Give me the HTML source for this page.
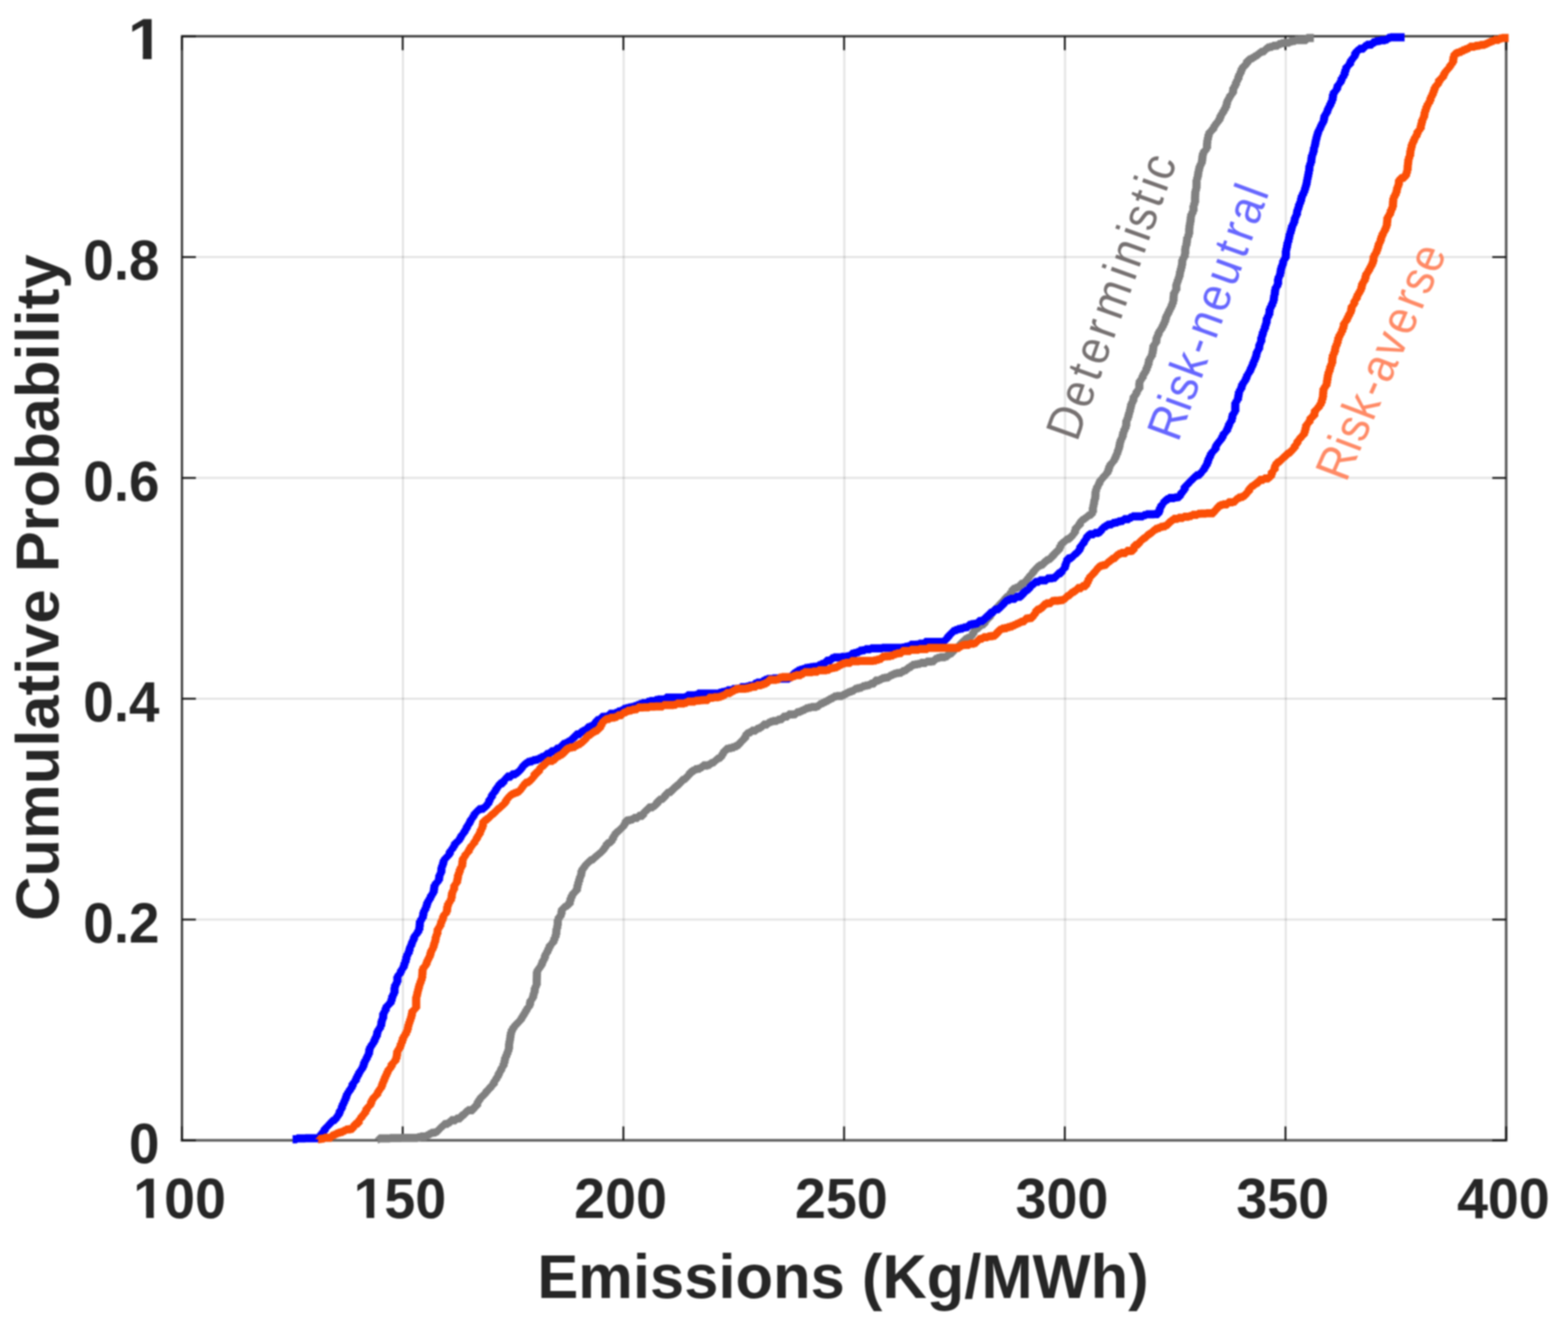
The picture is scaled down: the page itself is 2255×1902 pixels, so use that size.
<!DOCTYPE html>
<html lang="en"><head><meta charset="utf-8"><title>Cumulative Probability vs Emissions</title>
<style>
html,body{margin:0;padding:0;background:#fff}
body{width:2255px;height:1902px;overflow:hidden}
svg{display:block;filter:blur(1px)}
text{font-family:"Liberation Sans",sans-serif}
.tk{font-weight:bold;font-size:80px;fill:#262626}
.al{font-weight:bold;font-size:88px;fill:#262626}
.cl{font-size:71px}
</style></head><body>
<svg width="2255" height="1902" viewBox="0 0 2255 1902">
<rect width="2255" height="1902" fill="#fff"/>
<g stroke="#000" stroke-opacity="0.105" stroke-width="3" fill="none">
<line x1="579.5" y1="52.2" x2="579.5" y2="1639.4"/>
<line x1="896.9" y1="52.2" x2="896.9" y2="1639.4"/>
<line x1="1214.3" y1="52.2" x2="1214.3" y2="1639.4"/>
<line x1="1531.7" y1="52.2" x2="1531.7" y2="1639.4"/>
<line x1="1849.1" y1="52.2" x2="1849.1" y2="1639.4"/>
<line x1="261.7" y1="1322.0" x2="2166.1" y2="1322.0"/>
<line x1="261.7" y1="1004.5" x2="2166.1" y2="1004.5"/>
<line x1="261.7" y1="687.1" x2="2166.1" y2="687.1"/>
<line x1="261.7" y1="369.6" x2="2166.1" y2="369.6"/>
</g>
<g fill="none" stroke-width="3.4" stroke-linecap="square"><path stroke="#5c5c5c" stroke-width="3.8" d="M261.7,1639.4H2166.1M2166.1,52.2V1639.4"/><path stroke="#383838" stroke-width="3.2" d="M261.7,52.2H2166.1M261.7,52.2V1639.4"/></g>
<g stroke="#141414" stroke-width="2.6">
<line x1="261.7" y1="1639.4" x2="261.7" y2="1619.4"/><line x1="261.7" y1="52.2" x2="261.7" y2="72.2"/>
<line x1="579.1" y1="1639.4" x2="579.1" y2="1619.4"/><line x1="579.1" y1="52.2" x2="579.1" y2="72.2"/>
<line x1="896.5" y1="1639.4" x2="896.5" y2="1619.4"/><line x1="896.5" y1="52.2" x2="896.5" y2="72.2"/>
<line x1="1213.9" y1="1639.4" x2="1213.9" y2="1619.4"/><line x1="1213.9" y1="52.2" x2="1213.9" y2="72.2"/>
<line x1="1531.3" y1="1639.4" x2="1531.3" y2="1619.4"/><line x1="1531.3" y1="52.2" x2="1531.3" y2="72.2"/>
<line x1="1848.7" y1="1639.4" x2="1848.7" y2="1619.4"/><line x1="1848.7" y1="52.2" x2="1848.7" y2="72.2"/>
<line x1="2166.1" y1="1639.4" x2="2166.1" y2="1619.4"/><line x1="2166.1" y1="52.2" x2="2166.1" y2="72.2"/>
<line x1="261.7" y1="1639.4" x2="281.7" y2="1639.4"/><line x1="2166.1" y1="1639.4" x2="2146.1" y2="1639.4"/>
<line x1="261.7" y1="1322.0" x2="281.7" y2="1322.0"/><line x1="2166.1" y1="1322.0" x2="2146.1" y2="1322.0"/>
<line x1="261.7" y1="1004.5" x2="281.7" y2="1004.5"/><line x1="2166.1" y1="1004.5" x2="2146.1" y2="1004.5"/>
<line x1="261.7" y1="687.1" x2="281.7" y2="687.1"/><line x1="2166.1" y1="687.1" x2="2146.1" y2="687.1"/>
<line x1="261.7" y1="369.6" x2="281.7" y2="369.6"/><line x1="2166.1" y1="369.6" x2="2146.1" y2="369.6"/>
<line x1="261.7" y1="52.2" x2="281.7" y2="52.2"/><line x1="2166.1" y1="52.2" x2="2146.1" y2="52.2"/>
</g>
<g fill="none" stroke-width="11.8" stroke-linejoin="bevel" stroke-linecap="butt">
<polyline stroke="#808080" points="543.3,1637.8 545.2,1637.8 545.2,1636.6 549.2,1636.6 549.2,1636.6 553.1,1636.6 553.1,1636.6 557.0,1636.6 557.0,1636.6 560.9,1636.6 560.9,1636.2 564.9,1636.2 564.9,1636.2 568.8,1636.2 568.8,1636.2 572.7,1636.2 572.7,1636.2 576.6,1636.2 576.6,1635.9 580.5,1635.9 580.5,1635.8 584.5,1635.8 584.5,1635.8 588.4,1635.8 588.4,1635.8 592.4,1635.8 592.4,1635.8 596.4,1635.8 596.4,1635.8 600.5,1635.8 600.5,1635.0 604.5,1635.0 604.5,1634.0 608.8,1634.0 608.8,1634.0 612.9,1634.0 612.9,1632.5 616.3,1632.5 616.3,1630.4 619.7,1630.4 619.7,1628.6 623.5,1628.6 623.5,1628.1 627.2,1628.1 627.2,1626.6 630.2,1626.6 630.2,1623.7 632.6,1623.7 632.6,1621.2 635.3,1621.2 635.3,1618.8 638.0,1618.8 638.0,1616.2 641.2,1616.2 641.2,1615.6 644.8,1615.6 644.8,1613.5 648.2,1613.5 648.2,1610.5 652.0,1610.5 652.0,1610.5 655.8,1610.5 655.8,1608.1 659.5,1608.1 659.5,1607.9 662.7,1607.9 662.7,1604.0 665.8,1604.0 665.8,1602.0 669.1,1602.0 669.1,1598.5 672.2,1598.5 672.2,1596.1 676.7,1596.1 676.7,1596.1 680.7,1596.1 680.7,1591.8 684.1,1591.8 684.1,1590.1 686.2,1590.1 686.2,1586.0 687.3,1586.0 687.3,1582.9 689.4,1582.9 689.4,1579.7 691.6,1579.7 691.6,1576.6 694.4,1576.6 694.4,1574.0 697.4,1574.0 697.4,1570.9 699.9,1570.9 699.9,1567.3 702.8,1567.3 702.8,1565.2 705.3,1565.2 705.3,1561.4 708.0,1561.4 708.0,1559.5 710.1,1559.5 710.1,1555.2 711.7,1555.2 711.7,1552.5 713.9,1552.5 713.9,1549.0 715.9,1549.0 715.9,1546.1 717.3,1546.1 717.3,1542.2 719.0,1542.2 719.0,1539.6 720.8,1539.6 720.8,1535.8 722.3,1535.8 722.3,1532.9 724.2,1532.9 724.2,1528.6 725.5,1528.6 725.5,1524.3 726.4,1524.3 726.4,1519.9 728.1,1519.9 728.1,1516.1 729.7,1516.1 729.7,1512.1 731.1,1512.1 731.1,1508.3 732.0,1508.3 732.0,1503.9 732.1,1503.9 732.1,1500.0 732.7,1500.0 732.7,1496.0 733.5,1496.0 733.5,1491.9 734.1,1491.9 734.1,1487.8 734.8,1487.8 734.8,1483.7 736.1,1483.7 736.1,1479.8 738.3,1479.8 738.3,1476.0 740.9,1476.0 740.9,1472.8 744.0,1472.8 744.0,1469.6 747.0,1469.6 747.0,1467.1 749.3,1467.1 749.3,1463.8 751.1,1463.8 751.1,1460.7 753.1,1460.7 753.1,1457.5 755.0,1457.5 755.0,1454.4 756.8,1454.4 756.8,1451.0 758.7,1451.0 758.7,1448.1 761.0,1448.1 761.0,1445.2 762.2,1445.2 762.2,1441.1 762.9,1441.1 762.9,1437.7 765.0,1437.7 765.0,1435.1 766.6,1435.1 766.6,1431.1 767.5,1431.1 767.5,1427.6 768.7,1427.6 768.7,1423.9 769.1,1423.9 769.1,1419.9 770.5,1419.9 770.5,1416.5 771.9,1416.5 771.9,1412.5 771.9,1412.5 771.9,1408.5 772.0,1408.5 772.0,1404.7 772.1,1404.7 772.1,1400.8 772.2,1400.8 772.2,1396.8 773.2,1396.8 773.2,1393.7 775.3,1393.7 775.3,1390.8 777.4,1390.8 777.4,1388.0 779.1,1388.0 779.1,1384.6 780.4,1384.6 780.4,1380.8 782.4,1380.8 782.4,1377.6 783.7,1377.6 783.7,1373.3 785.0,1373.3 785.0,1370.2 787.1,1370.2 787.1,1366.5 788.8,1366.5 788.8,1362.7 790.6,1362.7 790.6,1358.5 793.2,1358.5 793.2,1355.8 795.8,1355.8 795.8,1351.9 797.3,1351.9 797.3,1347.7 799.0,1347.7 799.0,1343.7 800.0,1343.7 800.0,1339.0 800.3,1339.0 800.3,1334.9 801.4,1334.9 801.4,1330.7 802.1,1330.7 802.1,1326.3 802.2,1326.3 802.2,1321.9 803.6,1321.9 803.6,1318.1 806.3,1318.1 806.3,1314.3 807.5,1314.3 807.5,1309.7 808.2,1309.7 808.2,1306.4 810.4,1306.4 810.4,1304.2 813.6,1304.2 813.6,1302.1 816.9,1302.1 816.9,1300.2 819.3,1300.2 819.3,1295.4 820.5,1295.4 820.5,1291.1 822.1,1291.1 822.1,1287.1 824.1,1287.1 824.1,1283.5 827.1,1283.5 827.1,1281.1 829.6,1281.1 829.6,1276.5 830.5,1276.5 830.5,1272.1 831.7,1272.1 831.7,1267.7 833.0,1267.7 833.0,1263.2 834.1,1263.2 834.1,1259.7 835.6,1259.7 835.6,1255.9 836.3,1255.9 836.3,1251.4 837.8,1251.4 837.8,1248.3 840.3,1248.3 840.3,1245.0 842.5,1245.0 842.5,1242.0 845.1,1242.0 845.1,1239.5 847.9,1239.5 847.9,1236.8 851.1,1236.8 851.1,1235.3 854.3,1235.3 854.3,1232.5 857.2,1232.5 857.2,1230.1 860.1,1230.1 860.1,1227.7 862.8,1227.7 862.8,1225.4 865.6,1225.4 865.6,1223.1 867.9,1223.1 867.9,1219.8 870.2,1219.8 870.2,1216.5 872.5,1216.5 872.5,1212.4 875.8,1212.4 875.8,1210.7 879.5,1210.7 879.5,1207.2 881.5,1207.2 881.5,1203.0 883.4,1203.0 883.4,1199.9 885.5,1199.9 885.5,1196.6 888.2,1196.6 888.2,1194.6 891.1,1194.6 891.1,1191.8 893.9,1191.8 893.9,1189.4 896.4,1189.4 896.4,1186.4 898.4,1186.4 898.4,1183.2 900.1,1183.2 900.1,1179.6 903.2,1179.6 903.2,1179.1 907.2,1179.1 907.2,1178.1 910.9,1178.1 910.9,1175.8 914.9,1175.8 914.9,1175.8 917.8,1175.8 917.8,1172.9 921.5,1172.9 921.5,1172.9 924.9,1172.9 924.9,1169.6 926.5,1169.6 926.5,1166.5 929.1,1166.5 929.1,1164.3 932.2,1164.3 932.2,1160.9 935.8,1160.9 935.8,1160.7 939.6,1160.7 939.6,1158.4 943.0,1158.4 943.0,1156.4 945.2,1156.4 945.2,1151.7 947.6,1151.7 947.6,1149.7 951.3,1149.7 951.3,1148.4 954.6,1148.4 954.6,1146.3 956.6,1146.3 956.6,1142.0 958.5,1142.0 958.5,1139.9 962.0,1139.9 962.0,1138.5 965.8,1138.5 965.8,1136.1 968.5,1136.1 968.5,1132.3 971.4,1132.3 971.4,1130.0 974.8,1130.0 974.8,1127.8 977.6,1127.8 977.6,1124.3 980.1,1124.3 980.1,1121.5 983.7,1121.5 983.7,1119.7 986.9,1119.7 986.9,1116.3 989.8,1116.3 989.8,1114.1 992.3,1114.1 992.3,1109.8 995.0,1109.8 995.0,1108.2 999.0,1108.2 999.0,1105.9 1003.1,1105.9 1003.1,1105.1 1007.2,1105.1 1007.2,1103.1 1010.6,1103.1 1010.6,1100.5 1014.2,1100.5 1014.2,1100.5 1018.2,1100.5 1018.2,1099.5 1021.5,1099.5 1021.5,1097.2 1024.8,1097.2 1024.8,1095.8 1028.0,1095.8 1028.0,1093.2 1030.9,1093.2 1030.9,1090.6 1034.2,1090.6 1034.2,1089.4 1037.1,1089.4 1037.1,1086.1 1039.2,1086.1 1039.2,1082.6 1041.3,1082.6 1041.3,1079.1 1043.9,1079.1 1043.9,1076.6 1047.8,1076.6 1047.8,1075.7 1052.2,1075.7 1052.2,1074.5 1056.3,1074.5 1056.3,1072.8 1060.3,1072.8 1060.3,1071.0 1063.3,1071.0 1063.3,1067.3 1065.9,1067.3 1065.9,1064.7 1069.2,1064.7 1069.2,1062.2 1071.6,1062.2 1071.6,1058.0 1073.5,1058.0 1073.5,1054.3 1076.8,1054.3 1076.8,1052.9 1080.5,1052.9 1080.5,1050.4 1084.0,1050.4 1084.0,1050.3 1087.6,1050.3 1087.6,1047.8 1090.9,1047.8 1090.9,1046.6 1094.3,1046.6 1094.3,1044.7 1097.3,1044.7 1097.3,1041.6 1100.6,1041.6 1100.6,1041.6 1104.2,1041.6 1104.2,1039.1 1107.3,1039.1 1107.3,1037.7 1110.8,1037.7 1110.8,1036.6 1114.5,1036.6 1114.5,1036.3 1118.1,1036.3 1118.1,1034.7 1121.8,1034.7 1121.8,1033.9 1125.6,1033.9 1125.6,1030.4 1129.5,1030.4 1129.5,1030.0 1133.5,1030.0 1133.5,1027.2 1137.6,1027.2 1137.6,1027.2 1141.7,1027.2 1141.7,1026.9 1144.9,1026.9 1144.9,1024.2 1148.0,1024.2 1148.0,1023.4 1151.5,1023.4 1151.5,1021.8 1154.8,1021.8 1154.8,1020.4 1158.4,1020.4 1158.4,1018.3 1162.3,1018.3 1162.3,1017.3 1166.4,1017.3 1166.4,1016.3 1170.7,1016.3 1170.7,1016.3 1174.8,1016.3 1174.8,1015.1 1178.1,1015.1 1178.1,1012.4 1181.4,1012.4 1181.4,1010.9 1184.9,1010.9 1184.9,1009.1 1188.4,1009.1 1188.4,1007.4 1191.8,1007.4 1191.8,1005.3 1195.2,1005.3 1195.2,1003.6 1198.9,1003.6 1198.9,1001.3 1202.9,1001.3 1202.9,1000.6 1207.4,1000.6 1207.4,1000.6 1211.7,1000.6 1211.7,998.8 1215.3,998.8 1215.3,997.1 1218.6,997.1 1218.6,995.4 1222.0,995.4 1222.0,994.1 1225.5,994.1 1225.5,992.8 1228.8,992.8 1228.8,990.4 1232.2,990.4 1232.2,989.5 1236.0,989.5 1236.0,988.6 1239.9,988.6 1239.9,986.7 1243.8,986.7 1243.8,985.6 1247.9,985.6 1247.9,984.9 1251.4,984.9 1251.4,982.8 1254.9,982.8 1254.9,982.7 1258.0,982.7 1258.0,978.4 1261.0,978.4 1261.0,978.4 1264.7,978.4 1264.7,976.8 1268.0,976.8 1268.0,975.1 1271.5,975.1 1271.5,974.4 1275.2,974.4 1275.2,973.9 1278.7,973.9 1278.7,971.7 1281.9,971.7 1281.9,970.2 1285.2,970.2 1285.2,968.7 1288.9,968.7 1288.9,967.6 1293.1,967.6 1293.1,967.2 1297.1,967.2 1297.1,964.8 1300.9,964.8 1300.9,963.4 1304.4,963.4 1304.4,960.6 1307.9,960.6 1307.9,958.5 1311.5,958.5 1311.5,955.9 1315.6,955.9 1315.6,955.1 1319.8,955.1 1319.8,954.3 1323.8,954.3 1323.8,953.0 1328.0,953.0 1328.0,953.0 1332.1,953.0 1332.1,951.1 1336.2,951.1 1336.2,951.1 1340.4,951.1 1340.4,950.6 1344.1,950.6 1344.1,947.4 1347.5,947.4 1347.5,945.8 1351.4,945.8 1351.4,944.8 1355.6,944.8 1355.6,944.8 1359.7,944.8 1359.7,943.6 1363.2,943.6 1363.2,940.5 1366.8,940.5 1366.8,939.1 1370.0,939.1 1370.0,935.5 1372.8,935.5 1372.8,932.8 1375.9,932.8 1375.9,930.1 1379.2,930.1 1379.2,927.7 1381.8,927.7 1381.8,923.9 1384.3,923.9 1384.3,921.7 1387.2,921.7 1387.2,918.8 1390.4,918.8 1390.4,917.2 1394.3,917.2 1394.3,915.5 1397.3,915.5 1397.3,912.3 1399.6,912.3 1399.6,908.3 1401.9,908.3 1401.9,904.5 1405.2,904.5 1405.2,902.5 1408.7,902.5 1408.7,899.2 1412.4,899.2 1412.4,897.7 1415.8,897.7 1415.8,894.3 1417.8,894.3 1417.8,890.5 1420.4,890.5 1420.4,888.4 1423.4,888.4 1423.4,885.2 1425.0,885.2 1425.0,880.9 1427.2,880.9 1427.2,878.5 1430.2,878.5 1430.2,875.6 1433.0,875.6 1433.0,872.7 1435.7,872.7 1435.7,870.1 1438.3,870.1 1438.3,867.0 1441.0,867.0 1441.0,864.6 1443.7,864.6 1443.7,861.4 1446.1,861.4 1446.1,858.5 1449.2,858.5 1449.2,856.8 1452.0,856.8 1452.0,853.4 1453.9,853.4 1453.9,850.3 1456.2,850.3 1456.2,846.6 1459.8,846.6 1459.8,845.2 1464.0,845.2 1464.0,843.5 1467.4,843.5 1467.4,839.5 1471.0,839.5 1471.0,838.4 1474.2,838.4 1474.2,834.9 1476.5,834.9 1476.5,832.4 1479.0,832.4 1479.0,829.2 1481.2,829.2 1481.2,826.5 1484.0,826.5 1484.0,824.1 1486.2,824.1 1486.2,820.3 1488.4,820.3 1488.4,818.0 1491.2,818.0 1491.2,814.9 1494.1,814.9 1494.1,812.8 1497.8,812.8 1497.8,811.7 1501.0,811.7 1501.0,807.8 1504.1,807.8 1504.1,805.4 1508.0,805.4 1508.0,803.4 1511.7,803.4 1511.7,800.7 1514.5,800.7 1514.5,796.4 1517.1,796.4 1517.1,794.0 1520.5,794.0 1520.5,791.5 1523.1,791.5 1523.1,787.9 1524.7,787.9 1524.7,783.9 1526.6,783.9 1526.6,780.6 1529.4,780.6 1529.4,778.6 1532.3,778.6 1532.3,775.9 1535.4,775.9 1535.4,774.5 1538.8,774.5 1538.8,772.6 1541.3,772.6 1541.3,769.2 1543.9,769.2 1543.9,766.4 1545.9,766.4 1545.9,762.3 1547.2,762.3 1547.2,758.0 1550.2,758.0 1550.2,755.7 1552.9,755.7 1552.9,751.0 1554.9,751.0 1554.9,747.9 1558.1,747.9 1558.1,745.9 1561.2,745.9 1561.2,743.7 1564.1,743.7 1564.1,741.2 1567.2,741.2 1567.2,739.9 1570.3,739.9 1570.3,736.7 1571.7,736.7 1571.7,732.5 1571.7,732.5 1571.7,728.9 1572.5,728.9 1572.5,725.5 1573.3,725.5 1573.3,721.7 1573.9,721.7 1573.9,718.0 1575.0,718.0 1575.0,714.2 1575.4,714.2 1575.4,709.9 1575.5,709.9 1575.5,706.4 1576.4,706.4 1576.4,702.8 1577.7,702.8 1577.7,699.0 1579.4,699.0 1579.4,696.5 1580.9,696.5 1580.9,693.1 1582.3,693.1 1582.3,689.8 1584.8,689.8 1584.8,686.9 1587.4,686.9 1587.4,683.7 1590.1,683.7 1590.1,680.9 1592.6,680.9 1592.6,677.5 1594.2,677.5 1594.2,673.5 1595.4,673.5 1595.4,669.7 1597.2,669.7 1597.2,666.3 1599.7,666.3 1599.7,663.6 1602.1,663.6 1602.1,660.4 1603.7,660.4 1603.7,657.0 1605.2,657.0 1605.2,653.6 1606.7,653.6 1606.7,650.2 1607.7,650.2 1607.7,646.4 1609.0,646.4 1609.0,643.0 1609.9,643.0 1609.9,638.9 1610.6,638.9 1610.6,635.5 1611.7,635.5 1611.7,631.7 1613.3,631.7 1613.3,628.5 1614.6,628.5 1614.6,624.6 1615.4,624.6 1615.4,620.6 1616.9,620.6 1616.9,616.6 1618.7,616.6 1618.7,612.7 1619.7,612.7 1619.7,608.1 1619.9,608.1 1619.9,604.0 1621.5,604.0 1621.5,600.3 1622.8,600.3 1622.8,595.9 1623.8,595.9 1623.8,592.3 1625.0,592.3 1625.0,588.3 1625.9,588.3 1625.9,584.7 1626.7,584.7 1626.7,580.4 1628.2,580.4 1628.2,577.3 1629.8,577.3 1629.8,573.2 1630.4,573.2 1630.4,569.5 1632.8,569.5 1632.8,566.5 1634.6,566.5 1634.6,562.3 1636.6,562.3 1636.6,559.4 1638.5,559.4 1638.5,554.7 1638.5,554.7 1638.5,550.7 1639.1,550.7 1639.1,547.0 1641.3,547.0 1641.3,544.1 1643.3,544.1 1643.3,539.7 1644.9,539.7 1644.9,536.3 1647.1,536.3 1647.1,532.7 1648.8,532.7 1648.8,528.6 1650.4,528.6 1650.4,524.8 1651.7,524.8 1651.7,520.5 1652.5,520.5 1652.5,516.2 1654.4,516.2 1654.4,512.7 1656.6,512.7 1656.6,508.6 1657.6,508.6 1657.6,504.3 1658.3,504.3 1658.3,500.3 1658.8,500.3 1658.8,496.2 1660.7,496.2 1660.7,493.2 1662.8,493.2 1662.8,489.3 1663.3,489.3 1663.3,485.0 1664.6,485.0 1664.6,481.8 1666.2,481.8 1666.2,477.5 1667.9,477.5 1667.9,474.3 1670.3,474.3 1670.3,470.7 1672.2,470.7 1672.2,467.0 1674.0,467.0 1674.0,463.2 1675.6,463.2 1675.6,459.4 1676.7,459.4 1676.7,455.3 1678.1,455.3 1678.1,451.9 1680.0,451.9 1680.0,448.2 1681.7,448.2 1681.7,444.6 1683.6,444.6 1683.6,441.0 1685.2,441.0 1685.2,437.0 1686.7,437.0 1686.7,433.1 1687.6,433.1 1687.6,428.3 1687.9,428.3 1687.9,424.8 1688.3,424.8 1688.3,420.6 1690.1,420.6 1690.1,417.4 1691.7,417.4 1691.7,413.2 1691.7,413.2 1691.7,408.8 1692.6,408.8 1692.6,405.5 1693.8,405.5 1693.8,401.5 1695.2,401.5 1695.2,398.1 1696.4,398.1 1696.4,393.9 1697.0,393.9 1697.0,389.9 1698.1,389.9 1698.1,385.8 1699.2,385.8 1699.2,381.8 1700.0,381.8 1700.0,377.6 1700.3,377.6 1700.3,373.3 1701.7,373.3 1701.7,369.7 1703.8,369.7 1703.8,365.6 1704.5,365.6 1704.5,361.4 1704.5,361.4 1704.5,357.1 1705.1,357.1 1705.1,353.2 1706.3,353.2 1706.3,349.2 1706.9,349.2 1706.9,345.0 1707.4,345.0 1707.4,340.8 1709.1,340.8 1709.1,336.8 1710.2,336.8 1710.2,332.1 1710.3,332.1 1710.3,328.0 1710.7,328.0 1710.7,323.7 1711.4,323.7 1711.4,319.7 1712.1,319.7 1712.1,315.6 1712.5,315.6 1712.5,311.5 1713.2,311.5 1713.2,307.5 1715.0,307.5 1715.0,303.7 1716.4,303.7 1716.4,299.4 1716.4,299.4 1716.4,295.3 1717.5,295.3 1717.5,291.5 1718.6,291.5 1718.6,287.1 1718.6,287.1 1718.6,282.8 1718.8,282.8 1718.8,279.0 1719.0,279.0 1719.0,274.7 1719.9,274.7 1719.9,270.9 1720.7,270.9 1720.7,266.5 1720.8,266.5 1720.8,262.5 1720.8,262.5 1720.8,258.3 1721.8,258.3 1721.8,254.5 1722.8,254.5 1722.8,250.2 1723.4,250.2 1723.4,246.3 1724.3,246.3 1724.3,242.5 1725.1,242.5 1725.1,238.7 1726.6,238.7 1726.6,235.3 1728.3,235.3 1728.3,231.6 1728.9,231.6 1728.9,227.6 1729.3,227.6 1729.3,223.8 1730.0,223.8 1730.0,219.9 1731.5,219.9 1731.5,216.6 1734.3,216.6 1734.3,213.6 1735.8,213.6 1735.8,209.0 1735.9,209.0 1735.9,205.4 1736.3,205.4 1736.3,201.3 1737.1,201.3 1737.1,197.1 1738.0,197.1 1738.0,193.1 1739.4,193.1 1739.4,189.2 1742.1,189.2 1742.1,187.0 1744.7,187.0 1744.7,183.1 1746.6,183.1 1746.6,179.8 1748.9,179.8 1748.9,176.5 1751.4,176.5 1751.4,173.5 1753.7,173.5 1753.7,169.8 1755.2,169.8 1755.2,165.7 1757.1,165.7 1757.1,162.5 1759.3,162.5 1759.3,158.6 1761.5,158.6 1761.5,154.8 1763.4,154.8 1763.4,150.6 1764.5,150.6 1764.5,146.3 1765.7,146.3 1765.7,142.9 1767.4,142.9 1767.4,139.9 1769.1,139.9 1769.1,136.5 1771.5,136.5 1771.5,134.1 1773.2,134.1 1773.2,129.8 1773.7,129.8 1773.7,125.8 1775.8,125.8 1775.8,122.3 1777.5,122.3 1777.5,117.7 1779.2,117.7 1779.2,114.2 1781.0,114.2 1781.0,109.6 1782.3,109.6 1782.3,106.1 1784.2,106.1 1784.2,102.3 1785.6,102.3 1785.6,98.3 1787.6,98.3 1787.6,95.1 1791.1,95.1 1791.1,92.0 1793.5,92.0 1793.5,87.1 1795.6,87.1 1795.6,85.5 1799.2,85.5 1799.2,83.7 1802.8,83.7 1802.8,81.4 1806.2,81.4 1806.2,79.4 1809.5,79.4 1809.5,76.8 1812.5,76.8 1812.5,74.7 1816.1,74.7 1816.1,73.6 1819.3,73.6 1819.3,70.6 1822.1,70.6 1822.1,68.3 1825.9,68.3 1825.9,67.4 1830.1,67.4 1830.1,65.9 1834.3,65.9 1834.3,65.7 1838.3,65.7 1838.3,63.3 1842.3,63.3 1842.3,62.2 1846.4,62.2 1846.4,61.4 1850.8,61.4 1850.8,61.4 1854.9,61.4 1854.9,59.6 1858.9,59.6 1858.9,58.8 1863.0,58.8 1863.0,57.6 1867.1,57.6 1867.1,57.5 1871.2,57.5 1871.2,57.5 1875.3,57.5 1875.3,57.5 1879.3,57.5 1879.3,54.6 1883.4,54.6 1883.4,54.6 1887.5,54.6 1887.5,54.6 1889.5,54.6"/>
<polyline stroke="#0000ff" points="420.8,1637.8 422.9,1637.8 422.9,1637.8 426.9,1637.8 426.9,1636.6 431.0,1636.6 431.0,1636.6 435.1,1636.6 435.1,1636.6 439.1,1636.6 439.1,1636.4 443.2,1636.4 443.2,1636.4 447.3,1636.4 447.3,1636.4 451.4,1636.4 451.4,1636.4 455.5,1636.4 455.5,1636.4 459.2,1636.4 459.2,1633.5 461.8,1633.5 461.8,1629.5 464.4,1629.5 464.4,1626.2 467.0,1626.2 467.0,1622.1 469.3,1622.1 469.3,1619.6 472.0,1619.6 472.0,1617.0 474.5,1617.0 474.5,1614.1 477.0,1614.1 477.0,1611.3 480.1,1611.3 480.1,1610.0 482.9,1610.0 482.9,1606.7 485.0,1606.7 485.0,1603.7 487.2,1603.7 487.2,1600.5 488.6,1600.5 488.6,1596.6 490.4,1596.6 490.4,1593.8 491.8,1593.8 491.8,1589.7 493.2,1589.7 493.2,1586.1 495.0,1586.1 495.0,1582.5 496.5,1582.5 496.5,1579.2 497.8,1579.2 497.8,1575.4 499.0,1575.4 499.0,1571.9 500.9,1571.9 500.9,1568.9 503.2,1568.9 503.2,1565.3 505.6,1565.3 505.6,1562.0 507.1,1562.0 507.1,1557.5 509.1,1557.5 509.1,1554.7 511.6,1554.7 511.6,1550.8 513.1,1550.8 513.1,1547.4 514.9,1547.4 514.9,1544.0 516.6,1544.0 516.6,1540.6 518.7,1540.6 518.7,1537.6 520.9,1537.6 520.9,1534.3 522.5,1534.3 522.5,1530.7 523.6,1530.7 523.6,1526.7 525.3,1526.7 525.3,1523.3 527.3,1523.3 527.3,1519.5 529.0,1519.5 529.0,1516.0 530.6,1516.0 530.6,1512.0 531.2,1512.0 531.2,1507.8 532.4,1507.8 532.4,1504.5 534.5,1504.5 534.5,1501.0 536.8,1501.0 536.8,1497.9 538.5,1497.9 538.5,1494.0 540.1,1494.0 540.1,1490.6 541.9,1490.6 541.9,1486.7 542.7,1486.7 542.7,1482.4 544.3,1482.4 544.3,1479.2 546.6,1479.2 546.6,1475.6 548.1,1475.6 548.1,1472.0 548.6,1472.0 548.6,1467.9 549.6,1467.9 549.6,1464.7 550.9,1464.7 550.9,1460.9 551.2,1460.9 551.2,1456.5 552.8,1456.5 552.8,1453.4 554.6,1453.4 554.6,1449.1 556.0,1449.1 556.0,1445.7 559.1,1445.7 559.1,1443.0 561.8,1443.0 561.8,1439.2 563.2,1439.2 563.2,1435.3 564.2,1435.3 564.2,1431.3 565.9,1431.3 565.9,1427.9 567.3,1427.9 567.3,1423.7 567.4,1423.7 567.4,1419.5 568.2,1419.5 568.2,1415.6 570.1,1415.6 570.1,1412.2 571.5,1412.2 571.5,1407.7 571.5,1407.7 571.5,1403.6 572.9,1403.6 572.9,1401.0 575.3,1401.0 575.3,1397.9 576.8,1397.9 576.8,1394.2 578.7,1394.2 578.7,1391.5 580.6,1391.5 580.6,1387.8 581.7,1387.8 581.7,1383.7 583.3,1383.7 583.3,1379.6 584.4,1379.6 584.4,1375.1 585.7,1375.1 585.7,1371.2 587.8,1371.2 587.8,1367.3 589.0,1367.3 589.0,1363.3 589.9,1363.3 589.9,1360.4 591.5,1360.4 591.5,1357.1 592.7,1357.1 592.7,1353.5 594.2,1353.5 594.2,1350.5 595.5,1350.5 595.5,1346.5 597.0,1346.5 597.0,1343.8 599.4,1343.8 599.4,1340.8 601.5,1340.8 601.5,1336.9 603.1,1336.9 603.1,1332.7 603.6,1332.7 603.6,1328.2 603.9,1328.2 603.9,1323.9 605.8,1323.9 605.8,1320.2 608.0,1320.2 608.0,1316.5 608.8,1316.5 608.8,1311.8 609.9,1311.8 609.9,1308.6 611.8,1308.6 611.8,1304.8 613.3,1304.8 613.3,1301.1 614.4,1301.1 614.4,1297.0 616.1,1297.0 616.1,1293.8 618.2,1293.8 618.2,1290.2 619.9,1290.2 619.9,1286.6 622.1,1286.6 622.1,1283.5 623.7,1283.5 623.7,1279.7 624.3,1279.7 624.3,1275.7 624.9,1275.7 624.9,1272.0 626.7,1272.0 626.7,1268.9 629.4,1268.9 629.4,1265.9 631.3,1265.9 631.3,1262.2 631.8,1262.2 631.8,1258.1 633.2,1258.1 633.2,1254.9 634.6,1254.9 634.6,1251.0 634.9,1251.0 634.9,1247.0 635.9,1247.0 635.9,1243.6 637.2,1243.6 637.2,1239.8 638.2,1239.8 638.2,1236.2 640.0,1236.2 640.0,1233.4 642.6,1233.4 642.6,1230.7 645.2,1230.7 645.2,1228.2 646.8,1228.2 646.8,1223.9 648.4,1223.9 648.4,1221.4 650.8,1221.4 650.8,1218.3 652.8,1218.3 652.8,1215.2 654.4,1215.2 654.4,1211.6 656.9,1211.6 656.9,1209.7 659.9,1209.7 659.9,1206.7 661.8,1206.7 661.8,1203.4 663.5,1203.4 663.5,1200.2 665.8,1200.2 665.8,1197.6 667.9,1197.6 667.9,1194.1 669.7,1194.1 669.7,1191.3 671.4,1191.3 671.4,1187.6 673.2,1187.6 673.2,1184.7 675.2,1184.7 675.2,1181.5 676.8,1181.5 676.8,1178.0 678.8,1178.0 678.8,1175.3 680.8,1175.3 680.8,1171.9 682.6,1171.9 682.6,1168.8 685.0,1168.8 685.0,1166.2 688.0,1166.2 688.0,1163.3 692.2,1163.3 692.2,1162.6 696.4,1162.6 696.4,1159.9 699.6,1159.9 699.6,1156.4 702.3,1156.4 702.3,1153.1 703.8,1153.1 703.8,1149.1 705.7,1149.1 705.7,1146.4 707.5,1146.4 707.5,1142.3 709.3,1142.3 709.3,1139.6 711.7,1139.6 711.7,1136.2 713.7,1136.2 713.7,1132.8 716.0,1132.8 716.0,1129.8 718.2,1129.8 718.2,1126.5 721.4,1126.5 721.4,1126.0 724.0,1126.0 724.0,1121.6 726.0,1121.6 726.0,1119.7 728.7,1119.7 728.7,1116.5 732.1,1116.5 732.1,1116.5 735.4,1116.5 735.4,1113.5 738.6,1113.5 738.6,1113.0 742.1,1113.0 742.1,1111.2 745.2,1111.2 745.2,1108.8 747.9,1108.8 747.9,1105.9 750.2,1105.9 750.2,1102.9 752.4,1102.9 752.4,1099.7 755.0,1099.7 755.0,1097.6 758.3,1097.6 758.3,1095.3 762.0,1095.3 762.0,1094.5 766.1,1094.5 766.1,1092.9 770.2,1092.9 770.2,1092.1 774.2,1092.1 774.2,1090.4 777.9,1090.4 777.9,1088.4 781.6,1088.4 781.6,1087.1 785.0,1087.1 785.0,1084.2 788.5,1084.2 788.5,1083.0 792.0,1083.0 792.0,1080.1 795.7,1080.1 795.7,1079.6 799.4,1079.6 799.4,1076.4 802.8,1076.4 802.8,1075.6 806.2,1075.6 806.2,1072.4 808.9,1072.4 808.9,1069.7 812.3,1069.7 812.3,1068.3 815.8,1068.3 815.8,1066.3 819.2,1066.3 819.2,1064.3 822.3,1064.3 822.3,1061.5 825.3,1061.5 825.3,1059.5 828.0,1059.5 828.0,1055.8 831.2,1055.8 831.2,1055.3 834.7,1055.3 834.7,1052.3 837.8,1052.3 837.8,1050.6 841.3,1050.6 841.3,1049.1 844.3,1049.1 844.3,1045.7 847.7,1045.7 847.7,1044.4 851.8,1044.4 851.8,1042.6 855.0,1042.6 855.0,1038.7 857.6,1038.7 857.6,1035.5 861.2,1035.5 861.2,1034.1 864.7,1034.1 864.7,1030.7 868.2,1030.7 868.2,1030.5 872.4,1030.5 872.4,1029.6 876.2,1029.6 876.2,1026.2 880.2,1026.2 880.2,1026.2 884.4,1026.2 884.4,1024.8 888.2,1024.8 888.2,1022.9 892.3,1022.9 892.3,1021.7 896.2,1021.7 896.2,1019.1 899.9,1019.1 899.9,1018.2 903.8,1018.2 903.8,1017.1 907.8,1017.1 907.8,1016.4 911.7,1016.4 911.7,1015.1 915.6,1015.1 915.6,1013.7 919.3,1013.7 919.3,1012.1 923.0,1012.1 923.0,1010.9 926.9,1010.9 926.9,1010.9 930.7,1010.9 930.7,1008.8 934.4,1008.8 934.4,1007.9 938.3,1007.9 938.3,1007.9 942.2,1007.9 942.2,1006.4 945.9,1006.4 945.9,1005.7 949.9,1005.7 949.9,1005.7 953.8,1005.7 953.8,1005.4 957.4,1005.4 957.4,1002.8 961.2,1002.8 961.2,1002.8 965.3,1002.8 965.3,1002.8 969.3,1002.8 969.3,1002.8 973.0,1002.8 973.0,1002.8 976.7,1002.8 976.7,1002.8 980.6,1002.8 980.6,1002.8 984.4,1002.8 984.4,1002.1 988.1,1002.1 988.1,999.7 992.0,999.7 992.0,999.7 995.9,999.7 995.9,999.7 999.7,999.7 999.7,999.1 1003.3,999.1 1003.3,997.2 1007.1,997.2 1007.1,997.2 1011.1,997.2 1011.1,997.2 1015.0,997.2 1015.0,997.2 1018.8,997.2 1018.8,997.2 1022.6,997.2 1022.6,997.2 1026.4,997.2 1026.4,997.2 1030.3,997.2 1030.3,997.2 1033.9,997.2 1033.9,996.0 1037.6,996.0 1037.6,995.0 1041.6,995.0 1041.6,994.2 1045.5,994.2 1045.5,992.5 1049.4,992.5 1049.4,992.5 1053.2,992.5 1053.2,990.7 1057.0,990.7 1057.0,990.5 1061.1,990.5 1061.1,990.1 1065.0,990.1 1065.0,987.8 1069.0,987.8 1069.0,987.8 1073.1,987.8 1073.1,987.2 1076.9,987.2 1076.9,986.0 1080.9,986.0 1080.9,985.7 1084.5,985.7 1084.5,982.9 1087.9,982.9 1087.9,981.5 1092.2,981.5 1092.2,981.5 1096.1,981.5 1096.1,979.2 1099.4,979.2 1099.4,977.4 1103.1,977.4 1103.1,976.1 1107.1,976.1 1107.1,976.1 1111.2,976.1 1111.2,975.5 1115.4,975.5 1115.4,975.5 1119.5,975.5 1119.5,975.5 1123.6,975.5 1123.6,975.5 1127.8,975.5 1127.8,975.5 1131.9,975.5 1131.9,975.5 1135.3,975.5 1135.3,974.2 1138.0,974.2 1138.0,971.5 1140.4,971.5 1140.4,968.3 1143.3,968.3 1143.3,966.5 1146.7,966.5 1146.7,964.2 1150.0,964.2 1150.0,962.9 1153.7,962.9 1153.7,962.0 1157.4,962.0 1157.4,960.4 1161.2,960.4 1161.2,959.9 1165.1,959.9 1165.1,959.1 1168.9,959.1 1168.9,958.6 1172.8,958.6 1172.8,958.3 1176.7,958.3 1176.7,956.3 1180.5,956.3 1180.5,954.7 1184.4,954.7 1184.4,953.1 1187.8,953.1 1187.8,949.9 1191.6,949.9 1191.6,949.4 1195.4,949.4 1195.4,946.5 1198.8,946.5 1198.8,945.1 1202.5,945.1 1202.5,945.1 1206.2,945.1 1206.2,945.1 1209.9,945.1 1209.9,944.3 1213.6,944.3 1213.6,944.3 1217.2,944.3 1217.2,943.7 1220.7,943.7 1220.7,942.8 1224.0,942.8 1224.0,939.9 1227.6,939.9 1227.6,939.0 1231.8,939.0 1231.8,937.7 1235.8,937.7 1235.8,935.5 1239.8,935.5 1239.8,934.9 1244.0,934.9 1244.0,933.3 1248.0,933.3 1248.0,933.3 1252.2,933.3 1252.2,932.2 1256.2,932.2 1256.2,932.2 1260.3,932.2 1260.3,932.2 1264.5,932.2 1264.5,932.2 1268.5,932.2 1268.5,931.3 1272.7,931.3 1272.7,931.3 1276.8,931.3 1276.8,931.3 1280.8,931.3 1280.8,931.3 1285.0,931.3 1285.0,931.3 1289.1,931.3 1289.1,931.3 1293.2,931.3 1293.2,931.3 1297.1,931.3 1297.1,931.0 1301.1,931.0 1301.1,930.0 1305.0,930.0 1305.0,929.2 1309.0,929.2 1309.0,926.9 1313.2,926.9 1313.2,926.9 1317.5,926.9 1317.5,926.6 1321.5,926.6 1321.5,925.5 1325.7,925.5 1325.7,925.5 1329.9,925.5 1329.9,923.0 1334.1,923.0 1334.1,923.0 1338.3,923.0 1338.3,923.0 1342.4,923.0 1342.4,923.0 1346.5,923.0 1346.5,923.0 1350.7,923.0 1350.7,923.0 1354.7,923.0 1354.7,923.0 1358.0,923.0 1358.0,920.2 1361.0,920.2 1361.0,917.3 1363.7,917.3 1363.7,913.5 1366.5,913.5 1366.5,910.6 1369.7,910.6 1369.7,907.4 1373.1,907.4 1373.1,905.8 1377.0,905.8 1377.0,904.3 1381.1,904.3 1381.1,903.5 1385.3,903.5 1385.3,902.2 1389.2,902.2 1389.2,901.5 1392.7,901.5 1392.7,898.4 1396.1,898.4 1396.1,897.5 1399.9,897.5 1399.9,896.8 1403.8,896.8 1403.8,896.2 1407.0,896.2 1407.0,892.8 1410.5,892.8 1410.5,892.5 1414.5,892.5 1414.5,890.4 1417.3,890.4 1417.3,886.6 1420.3,886.6 1420.3,885.4 1423.2,885.4 1423.2,881.0 1426.3,881.0 1426.3,880.0 1429.7,880.0 1429.7,876.4 1433.3,876.4 1433.3,875.9 1437.1,875.9 1437.1,873.0 1440.2,873.0 1440.2,870.4 1442.9,870.4 1442.9,867.1 1445.5,867.1 1445.5,864.1 1448.8,864.1 1448.8,862.5 1452.6,862.5 1452.6,860.9 1456.8,860.9 1456.8,860.9 1460.7,860.9 1460.7,857.9 1464.8,857.9 1464.8,857.9 1468.6,857.9 1468.6,856.1 1470.9,856.1 1470.9,851.6 1473.4,851.6 1473.4,849.7 1477.0,849.7 1477.0,847.7 1480.0,847.7 1480.0,844.8 1482.1,844.8 1482.1,841.4 1484.9,841.4 1484.9,839.7 1487.9,839.7 1487.9,836.6 1491.0,836.6 1491.0,836.3 1494.6,836.3 1494.6,834.3 1498.1,834.3 1498.1,834.3 1501.9,834.3 1501.9,834.3 1505.4,834.3 1505.4,831.7 1509.5,831.7 1509.5,831.3 1514.1,831.3 1514.1,830.7 1518.3,830.7 1518.3,828.1 1520.9,828.1 1520.9,824.4 1524.0,824.4 1524.0,824.0 1526.7,824.0 1526.7,819.7 1528.7,819.7 1528.7,817.9 1531.2,817.9 1531.2,814.5 1532.3,814.5 1532.3,810.6 1533.5,810.6 1533.5,807.4 1535.0,807.4 1535.0,802.9 1537.7,802.9 1537.7,802.4 1541.5,802.4 1541.5,800.0 1544.2,800.0 1544.2,797.2 1547.0,797.2 1547.0,795.0 1550.0,795.0 1550.0,792.2 1552.3,792.2 1552.3,788.9 1553.7,788.9 1553.7,784.9 1555.7,784.9 1555.7,782.4 1558.2,782.4 1558.2,779.1 1560.0,779.1 1560.0,776.1 1562.0,776.1 1562.0,773.5 1563.6,773.5 1563.6,769.9 1566.1,769.9 1566.1,768.1 1570.1,768.1 1570.1,768.1 1573.6,768.1 1573.6,766.1 1577.1,766.1 1577.1,766.1 1580.8,766.1 1580.8,764.8 1583.3,764.8 1583.3,760.9 1585.6,760.9 1585.6,758.3 1588.7,758.3 1588.7,756.5 1592.0,756.5 1592.0,754.3 1595.6,754.3 1595.6,753.9 1599.7,753.9 1599.7,751.9 1603.6,751.9 1603.6,751.2 1607.7,751.2 1607.7,749.7 1611.8,749.7 1611.8,748.8 1615.8,748.8 1615.8,746.3 1619.9,746.3 1619.9,746.3 1624.2,746.3 1624.2,744.2 1628.1,744.2 1628.1,742.4 1632.2,742.4 1632.2,742.4 1636.2,742.4 1636.2,742.4 1640.4,742.4 1640.4,742.4 1644.2,742.4 1644.2,740.6 1648.4,740.6 1648.4,739.4 1652.5,739.4 1652.5,739.4 1656.0,739.4 1656.0,739.4 1659.6,739.4 1659.6,739.2 1663.2,739.2 1663.2,739.0 1666.2,739.0 1666.2,736.1 1667.4,736.1 1667.4,731.9 1668.4,731.9 1668.4,729.0 1670.1,729.0 1670.1,725.6 1672.2,725.6 1672.2,723.2 1674.4,723.2 1674.4,719.8 1676.9,719.8 1676.9,718.0 1680.6,718.0 1680.6,716.0 1685.1,716.0 1685.1,716.0 1689.4,716.0 1689.4,715.1 1693.4,715.1 1693.4,714.7 1696.7,714.7 1696.7,710.9 1699.0,710.9 1699.0,707.3 1701.9,707.3 1701.9,704.6 1703.7,704.6 1703.7,699.2 1705.7,699.2 1705.7,696.9 1708.8,696.9 1708.8,693.9 1711.3,693.9 1711.3,691.2 1714.0,691.2 1714.0,688.8 1716.7,688.8 1716.7,685.8 1719.5,685.8 1719.5,683.5 1723.2,683.5 1723.2,682.6 1726.3,682.6 1726.3,678.9 1728.8,678.9 1728.8,676.8 1731.2,676.8 1731.2,673.2 1733.2,673.2 1733.2,669.7 1735.4,669.7 1735.4,666.2 1736.9,666.2 1736.9,662.2 1738.2,662.2 1738.2,658.4 1740.0,658.4 1740.0,654.8 1741.5,654.8 1741.5,651.2 1743.5,651.2 1743.5,648.6 1746.5,648.6 1746.5,646.3 1748.2,646.3 1748.2,642.0 1749.3,642.0 1749.3,638.9 1751.3,638.9 1751.3,635.9 1753.7,635.9 1753.7,632.9 1756.2,632.9 1756.2,629.8 1758.1,629.8 1758.1,625.9 1759.8,625.9 1759.8,622.6 1762.5,622.6 1762.5,619.9 1764.7,619.9 1764.7,616.0 1766.2,616.0 1766.2,612.7 1767.5,612.7 1767.5,608.8 1769.2,608.8 1769.2,605.9 1771.2,605.9 1771.2,602.2 1772.1,602.2 1772.1,598.3 1772.9,598.3 1772.9,594.7 1775.0,594.7 1775.0,591.8 1776.5,591.8 1776.5,587.1 1776.5,587.1 1776.5,583.0 1776.6,583.0 1776.6,578.6 1778.3,578.6 1778.3,575.3 1780.3,575.3 1780.3,571.1 1781.0,571.1 1781.0,567.0 1781.7,567.0 1781.7,562.7 1783.3,562.7 1783.3,559.6 1785.3,559.6 1785.3,555.6 1786.4,555.6 1786.4,551.8 1788.4,551.8 1788.4,548.5 1790.7,548.5 1790.7,545.2 1792.3,545.2 1792.3,541.6 1793.7,541.6 1793.7,538.1 1795.7,538.1 1795.7,535.1 1797.7,535.1 1797.7,531.5 1799.1,531.5 1799.1,527.9 1800.8,527.9 1800.8,524.4 1802.3,524.4 1802.3,520.6 1803.8,520.6 1803.8,517.1 1805.3,517.1 1805.3,513.3 1806.6,513.3 1806.6,509.6 1807.4,509.6 1807.4,505.6 1809.0,505.6 1809.0,502.5 1810.7,502.5 1810.7,498.9 1811.1,498.9 1811.1,494.9 1812.4,494.9 1812.4,491.9 1813.8,491.9 1813.8,488.1 1814.0,488.1 1814.0,484.2 1815.2,484.2 1815.2,481.0 1816.2,481.0 1816.2,476.6 1817.7,476.6 1817.7,473.1 1819.2,473.1 1819.2,468.6 1820.4,468.6 1820.4,465.1 1821.5,465.1 1821.5,460.5 1821.9,460.5 1821.9,456.7 1823.7,456.7 1823.7,453.0 1825.4,453.0 1825.4,448.6 1825.9,448.6 1825.9,443.9 1827.3,443.9 1827.3,440.3 1829.3,440.3 1829.3,436.0 1830.9,436.0 1830.9,432.4 1831.9,432.4 1831.9,428.1 1832.4,428.1 1832.4,424.3 1833.3,424.3 1833.3,420.3 1833.7,420.3 1833.7,416.1 1834.6,416.1 1834.6,412.4 1836.8,412.4 1836.8,409.0 1838.0,409.0 1838.0,404.5 1838.0,404.5 1838.0,400.8 1838.9,400.8 1838.9,397.2 1840.7,397.2 1840.7,393.5 1841.6,393.5 1841.6,389.2 1842.2,389.2 1842.2,385.6 1843.3,385.6 1843.3,381.8 1844.7,381.8 1844.7,378.4 1845.5,378.4 1845.5,374.4 1847.1,374.4 1847.1,371.5 1849.0,371.5 1849.0,367.8 1849.3,367.8 1849.3,363.4 1849.3,363.4 1849.3,359.9 1850.0,359.9 1850.0,356.5 1850.9,356.5 1850.9,352.3 1851.6,352.3 1851.6,348.2 1852.9,348.2 1852.9,344.3 1853.8,344.3 1853.8,340.0 1854.6,340.0 1854.6,336.0 1856.0,336.0 1856.0,332.1 1857.1,332.1 1857.1,327.9 1858.1,327.9 1858.1,323.9 1859.9,323.9 1859.9,320.4 1861.4,320.4 1861.4,316.6 1862.2,316.6 1862.2,312.5 1863.7,312.5 1863.7,309.2 1865.2,309.2 1865.2,304.8 1865.8,304.8 1865.8,301.3 1867.1,301.3 1867.1,297.5 1868.2,297.5 1868.2,293.3 1869.8,293.3 1869.8,289.4 1871.1,289.4 1871.1,284.9 1872.1,284.9 1872.1,280.9 1874.0,280.9 1874.0,277.0 1875.7,277.0 1875.7,273.3 1876.9,273.3 1876.9,269.6 1878.0,269.6 1878.0,265.9 1879.0,265.9 1879.0,262.1 1879.7,262.1 1879.7,258.2 1880.5,258.2 1880.5,254.4 1881.3,254.4 1881.3,250.4 1882.1,250.4 1882.1,246.3 1882.9,246.3 1882.9,242.2 1883.2,242.2 1883.2,238.0 1884.4,238.0 1884.4,234.3 1885.7,234.3 1885.7,230.1 1886.1,230.1 1886.1,226.3 1886.7,226.3 1886.7,222.4 1888.1,222.4 1888.1,219.0 1889.2,219.0 1889.2,215.0 1889.7,215.0 1889.7,211.3 1890.9,211.3 1890.9,207.7 1891.7,207.7 1891.7,203.8 1892.4,203.8 1892.4,200.3 1893.3,200.3 1893.3,196.5 1894.3,196.5 1894.3,193.0 1895.4,193.0 1895.4,189.2 1896.7,189.2 1896.7,186.2 1898.4,186.2 1898.4,182.8 1899.9,182.8 1899.9,179.5 1901.5,179.5 1901.5,176.3 1903.2,176.3 1903.2,173.0 1904.1,173.0 1904.1,169.2 1904.8,169.2 1904.8,165.7 1906.6,165.7 1906.6,162.7 1908.5,162.7 1908.5,159.3 1909.7,159.3 1909.7,155.7 1911.3,155.7 1911.3,152.6 1913.1,152.6 1913.1,148.5 1914.9,148.5 1914.9,144.6 1916.4,144.6 1916.4,140.2 1917.0,140.2 1917.0,135.6 1918.3,135.6 1918.3,131.8 1920.9,131.8 1920.9,129.1 1922.8,129.1 1922.8,125.5 1923.8,125.5 1923.8,122.0 1925.9,122.0 1925.9,119.4 1928.0,119.4 1928.0,116.0 1929.5,116.0 1929.5,111.8 1931.8,111.8 1931.8,108.1 1933.7,108.1 1933.7,103.4 1934.9,103.4 1934.9,99.5 1936.3,99.5 1936.3,95.6 1939.1,95.6 1939.1,93.2 1941.5,93.2 1941.5,88.9 1943.0,88.9 1943.0,85.7 1945.3,85.7 1945.3,82.7 1947.8,82.7 1947.8,79.7 1949.1,79.7 1949.1,75.3 1950.9,75.3 1950.9,72.8 1954.3,72.8 1954.3,70.2 1958.2,70.2 1958.2,69.8 1961.9,69.8 1961.9,66.5 1965.1,66.5 1965.1,64.3 1969.4,64.3 1969.4,64.1 1973.7,64.1 1973.7,61.0 1977.8,61.0 1977.8,59.3 1981.7,59.3 1981.7,58.8 1985.2,58.8 1985.2,57.9 1988.9,57.9 1988.9,57.9 1992.5,57.9 1992.5,56.9 1995.9,56.9 1995.9,54.5 1999.5,54.5 1999.5,53.7 2003.4,53.7 2003.4,53.7 2007.1,53.7 2007.1,53.7 2010.8,53.7 2010.8,53.7 2014.5,53.7 2014.5,53.7 2018.2,53.7 2018.2,53.7 2020.0,53.7"/>
<polyline stroke="#fb4f06" points="457.5,1637.8 459.3,1637.8 459.3,1637.4 462.8,1637.4 462.8,1636.9 466.4,1636.9 466.4,1635.7 469.9,1635.7 469.9,1635.7 473.5,1635.7 473.5,1635.6 476.6,1635.6 476.6,1632.6 479.6,1632.6 479.6,1631.3 482.9,1631.3 482.9,1629.7 486.2,1629.7 486.2,1628.4 489.8,1628.4 489.8,1627.3 493.5,1627.3 493.5,1625.6 497.0,1625.6 497.0,1623.8 500.7,1623.8 500.7,1623.5 504.7,1623.5 504.7,1622.8 507.8,1622.8 507.8,1619.5 509.8,1619.5 509.8,1616.0 513.2,1616.0 513.2,1615.3 515.8,1615.3 515.8,1610.5 517.4,1610.5 517.4,1608.1 519.9,1608.1 519.9,1604.2 522.6,1604.2 522.6,1601.1 525.3,1601.1 525.3,1597.3 527.1,1597.3 527.1,1592.9 529.6,1592.9 529.6,1590.1 532.5,1590.1 532.5,1587.0 533.8,1587.0 533.8,1583.0 535.3,1583.0 535.3,1580.0 537.3,1580.0 537.3,1576.8 540.1,1576.8 540.1,1574.7 542.5,1574.7 542.5,1571.1 544.0,1571.1 544.0,1567.9 546.0,1567.9 546.0,1565.0 548.2,1565.0 548.2,1562.0 549.5,1562.0 549.5,1558.2 550.7,1558.2 550.7,1555.1 552.2,1555.1 552.2,1551.3 553.7,1551.3 553.7,1547.6 555.4,1547.6 555.4,1544.0 557.0,1544.0 557.0,1540.2 558.7,1540.2 558.7,1536.8 561.4,1536.8 561.4,1533.7 563.3,1533.7 563.3,1528.9 565.7,1528.9 565.7,1526.3 568.7,1526.3 568.7,1522.3 570.2,1522.3 570.2,1518.6 570.9,1518.6 570.9,1514.6 571.3,1514.6 571.3,1510.7 573.1,1510.7 573.1,1507.6 575.2,1507.6 575.2,1503.9 576.4,1503.9 576.4,1499.7 578.1,1499.7 578.1,1495.8 579.4,1495.8 579.4,1491.4 581.3,1491.4 581.3,1487.9 583.6,1487.9 583.6,1483.9 585.4,1483.9 585.4,1480.2 586.6,1480.2 586.6,1476.2 587.4,1476.2 587.4,1472.3 588.6,1472.3 588.6,1468.6 589.9,1468.6 589.9,1464.7 591.2,1464.7 591.2,1460.9 592.2,1460.9 592.2,1456.8 593.0,1456.8 593.0,1452.7 596.0,1452.7 596.0,1449.7 598.5,1449.7 598.5,1445.0 598.5,1445.0 598.5,1440.9 598.5,1440.9 598.5,1436.7 598.6,1436.7 598.6,1432.7 599.6,1432.7 599.6,1429.1 600.4,1429.1 600.4,1425.1 601.4,1425.1 601.4,1421.5 602.4,1421.5 602.4,1417.5 603.4,1417.5 603.4,1413.9 604.8,1413.9 604.8,1409.9 606.2,1409.9 606.2,1406.1 607.2,1406.1 607.2,1401.8 607.5,1401.8 607.5,1397.6 607.7,1397.6 607.7,1393.3 609.1,1393.3 609.1,1389.8 611.7,1389.8 611.7,1386.9 613.4,1386.9 613.4,1383.3 614.6,1383.3 614.6,1379.9 616.2,1379.9 616.2,1376.7 617.9,1376.7 617.9,1373.5 619.0,1373.5 619.0,1369.5 620.1,1369.5 620.1,1366.0 622.0,1366.0 622.0,1362.6 623.5,1362.6 623.5,1358.8 624.5,1358.8 624.5,1355.0 625.8,1355.0 625.8,1351.1 626.6,1351.1 626.6,1346.6 627.8,1346.6 627.8,1343.1 629.1,1343.1 629.1,1338.7 629.5,1338.7 629.5,1334.9 631.5,1334.9 631.5,1331.8 633.5,1331.8 633.5,1327.9 634.6,1327.9 634.6,1324.0 636.3,1324.0 636.3,1320.6 637.4,1320.6 637.4,1316.7 638.8,1316.7 638.8,1314.0 641.5,1314.0 641.5,1311.1 642.8,1311.1 642.8,1307.0 643.2,1307.0 643.2,1303.0 644.3,1303.0 644.3,1298.8 646.3,1298.8 646.3,1295.2 648.5,1295.2 648.5,1291.2 649.6,1291.2 649.6,1286.7 650.1,1286.7 650.1,1282.9 651.3,1282.9 651.3,1279.7 652.9,1279.7 652.9,1276.1 653.4,1276.1 653.4,1272.2 655.3,1272.2 655.3,1269.6 657.3,1269.6 657.3,1265.4 658.0,1265.4 658.0,1262.2 658.6,1262.2 658.6,1257.5 659.9,1257.5 659.9,1254.1 661.2,1254.1 661.2,1249.6 662.7,1249.6 662.7,1246.1 664.6,1246.1 664.6,1242.0 665.1,1242.0 665.1,1237.5 665.7,1237.5 665.7,1233.8 667.5,1233.8 667.5,1230.9 669.4,1230.9 669.4,1227.5 671.9,1227.5 671.9,1225.2 674.1,1225.2 674.1,1221.6 675.7,1221.6 675.7,1218.6 677.6,1218.6 677.6,1215.3 680.0,1215.3 680.0,1213.0 682.2,1213.0 682.2,1209.3 684.1,1209.3 684.1,1206.7 685.9,1206.7 685.9,1202.9 687.8,1202.9 687.8,1199.8 690.0,1199.8 690.0,1195.9 691.4,1195.9 691.4,1192.1 693.3,1192.1 693.3,1188.6 694.4,1188.6 694.4,1183.9 695.1,1183.9 695.1,1180.2 698.0,1180.2 698.0,1178.0 701.9,1178.0 701.9,1175.3 705.0,1175.3 705.0,1171.9 708.2,1171.9 708.2,1169.4 711.7,1169.4 711.7,1166.7 714.3,1166.7 714.3,1163.4 717.0,1163.4 717.0,1161.7 719.9,1161.7 719.9,1159.0 722.6,1159.0 722.6,1156.7 725.4,1156.7 725.4,1153.8 727.6,1153.8 727.6,1149.9 729.7,1149.9 729.7,1147.0 732.2,1147.0 732.2,1143.9 735.0,1143.9 735.0,1141.8 738.3,1141.8 738.3,1140.3 741.7,1140.3 741.7,1139.2 745.2,1139.2 745.2,1137.6 748.0,1137.6 748.0,1134.4 750.3,1134.4 750.3,1131.6 752.5,1131.6 752.5,1128.2 754.7,1128.2 754.7,1125.5 757.9,1125.5 757.9,1124.3 761.4,1124.3 761.4,1122.1 764.2,1122.1 764.2,1119.1 766.8,1119.1 766.8,1116.6 768.8,1116.6 768.8,1111.7 771.8,1111.7 771.8,1110.2 775.0,1110.2 775.0,1105.8 777.3,1105.8 777.3,1102.5 780.6,1102.5 780.6,1100.1 783.9,1100.1 783.9,1096.4 787.0,1096.4 787.0,1093.9 791.3,1093.9 791.3,1093.8 795.7,1093.8 795.7,1091.8 799.1,1091.8 799.1,1088.5 802.4,1088.5 802.4,1086.5 806.0,1086.5 806.0,1084.5 809.6,1084.5 809.6,1082.5 812.2,1082.5 812.2,1078.0 814.9,1078.0 814.9,1076.2 818.9,1076.2 818.9,1074.7 823.4,1074.7 823.4,1073.9 827.6,1073.9 827.6,1071.4 831.5,1071.4 831.5,1069.6 835.4,1069.6 835.4,1067.2 838.7,1067.2 838.7,1064.4 841.7,1064.4 841.7,1061.3 844.2,1061.3 844.2,1057.6 847.2,1057.6 847.2,1056.1 850.5,1056.1 850.5,1053.7 853.6,1053.7 853.6,1051.6 857.0,1051.6 857.0,1050.0 860.3,1050.0 860.3,1047.7 862.9,1047.7 862.9,1043.9 864.9,1043.9 864.9,1039.8 867.4,1039.8 867.4,1036.1 870.2,1036.1 870.2,1034.1 873.4,1034.1 873.4,1033.5 877.1,1033.5 877.1,1031.9 880.9,1031.9 880.9,1031.7 884.7,1031.7 884.7,1030.7 888.0,1030.7 888.0,1028.3 891.6,1028.3 891.6,1028.1 895.0,1028.1 895.0,1025.1 898.1,1025.1 898.1,1023.8 901.5,1023.8 901.5,1022.0 905.1,1022.0 905.1,1021.3 909.0,1021.3 909.0,1020.2 913.1,1020.2 913.1,1019.7 917.0,1019.7 917.0,1017.2 921.1,1017.2 921.1,1017.2 925.4,1017.2 925.4,1016.8 929.5,1016.8 929.5,1016.8 933.8,1016.8 933.8,1015.9 938.1,1015.9 938.1,1015.8 942.2,1015.8 942.2,1015.6 946.1,1015.6 946.1,1015.6 949.9,1015.6 949.9,1015.6 953.7,1015.6 953.7,1013.7 957.5,1013.7 957.5,1013.7 961.4,1013.7 961.4,1013.7 965.2,1013.7 965.2,1013.7 969.1,1013.7 969.1,1013.1 972.9,1013.1 972.9,1011.4 976.7,1011.4 976.7,1011.3 980.7,1011.3 980.7,1011.3 984.5,1011.3 984.5,1010.3 988.2,1010.3 988.2,1008.7 992.0,1008.7 992.0,1008.7 995.9,1008.7 995.9,1008.5 999.7,1008.5 999.7,1007.3 1003.5,1007.3 1003.5,1007.1 1007.3,1007.1 1007.3,1006.6 1011.2,1006.6 1011.2,1006.4 1015.1,1006.4 1015.1,1006.4 1018.8,1006.4 1018.8,1003.2 1022.6,1003.2 1022.6,1003.2 1026.4,1003.2 1026.4,1002.3 1030.2,1002.3 1030.2,1002.3 1034.0,1002.3 1034.0,1001.6 1037.4,1001.6 1037.4,1000.4 1040.8,1000.4 1040.8,998.9 1043.9,998.9 1043.9,996.4 1047.4,996.4 1047.4,996.4 1050.8,996.4 1050.8,994.6 1053.7,994.6 1053.7,992.8 1057.0,992.8 1057.0,991.0 1060.8,991.0 1060.8,990.2 1064.9,990.2 1064.9,990.2 1069.1,990.2 1069.1,990.2 1073.0,990.2 1073.0,989.5 1076.9,989.5 1076.9,988.5 1080.6,988.5 1080.6,987.3 1084.4,987.3 1084.4,987.2 1088.0,987.2 1088.0,985.1 1091.7,985.1 1091.7,985.1 1095.4,985.1 1095.4,983.9 1099.0,983.9 1099.0,982.5 1102.6,982.5 1102.6,980.8 1105.5,980.8 1105.5,977.3 1108.9,977.3 1108.9,977.3 1113.1,977.3 1113.1,977.3 1117.0,977.3 1117.0,976.7 1120.6,976.7 1120.6,974.1 1124.2,974.1 1124.2,973.5 1128.2,973.5 1128.2,973.5 1132.1,973.5 1132.1,973.4 1136.2,973.4 1136.2,973.4 1140.2,973.4 1140.2,971.8 1144.1,971.8 1144.1,970.7 1148.3,970.7 1148.3,970.7 1152.4,970.7 1152.4,968.6 1156.1,968.6 1156.1,966.3 1160.2,966.3 1160.2,966.3 1164.5,966.3 1164.5,966.3 1168.6,966.3 1168.6,965.5 1172.6,965.5 1172.6,965.5 1176.6,965.5 1176.6,963.6 1180.7,963.6 1180.7,963.6 1185.1,963.6 1185.1,963.6 1189.1,963.6 1189.1,962.9 1193.1,962.9 1193.1,960.8 1196.9,960.8 1196.9,960.1 1200.7,960.1 1200.7,959.4 1204.3,959.4 1204.3,957.5 1207.7,957.5 1207.7,955.6 1211.3,955.6 1211.3,953.8 1215.4,953.8 1215.4,952.9 1219.7,952.9 1219.7,952.9 1223.8,952.9 1223.8,950.5 1227.7,950.5 1227.7,950.5 1231.7,950.5 1231.7,950.5 1235.8,950.5 1235.8,950.1 1239.9,950.1 1239.9,950.1 1244.0,950.1 1244.0,950.1 1248.1,950.1 1248.1,950.1 1252.3,950.1 1252.3,950.1 1256.4,950.1 1256.4,949.5 1260.5,949.5 1260.5,948.4 1264.6,948.4 1264.6,947.1 1268.4,947.1 1268.4,944.1 1272.3,944.1 1272.3,943.6 1276.7,943.6 1276.7,943.4 1281.0,943.4 1281.0,942.4 1285.1,942.4 1285.1,940.6 1289.1,940.6 1289.1,939.3 1293.3,939.3 1293.3,938.8 1297.2,938.8 1297.2,935.9 1301.1,935.9 1301.1,935.9 1305.3,935.9 1305.3,935.9 1309.3,935.9 1309.3,934.2 1313.4,934.2 1313.4,934.2 1317.6,934.2 1317.6,934.1 1321.7,934.1 1321.7,933.2 1325.8,933.2 1325.8,933.2 1330.0,933.2 1330.0,933.2 1334.1,933.2 1334.1,931.3 1338.2,931.3 1338.2,931.3 1342.4,931.3 1342.4,931.3 1346.3,931.3 1346.3,931.3 1350.1,931.3 1350.1,931.3 1353.9,931.3 1353.9,931.3 1357.6,931.3 1357.6,931.3 1361.3,931.3 1361.3,931.3 1365.1,931.3 1365.1,931.3 1368.9,931.3 1368.9,931.3 1372.6,931.3 1372.6,931.3 1376.4,931.3 1376.4,931.3 1380.1,931.3 1380.1,929.0 1383.4,929.0 1383.4,927.4 1387.0,927.4 1387.0,927.0 1390.7,927.0 1390.7,927.0 1394.3,927.0 1394.3,925.3 1397.8,925.3 1397.8,925.3 1401.4,925.3 1401.4,924.4 1404.4,924.4 1404.4,921.6 1407.0,921.6 1407.0,918.9 1410.2,918.9 1410.2,918.1 1413.7,918.1 1413.7,916.1 1417.2,916.1 1417.2,916.1 1420.9,916.1 1420.9,914.8 1424.5,914.8 1424.5,914.5 1428.3,914.5 1428.3,913.9 1431.9,913.9 1431.9,911.8 1434.4,911.8 1434.4,907.3 1436.7,907.3 1436.7,905.4 1440.4,905.4 1440.4,903.6 1444.5,903.6 1444.5,903.0 1448.6,903.0 1448.6,901.7 1452.7,901.7 1452.7,900.5 1456.7,900.5 1456.7,898.9 1460.4,898.9 1460.4,897.2 1463.9,897.2 1463.9,895.7 1467.3,895.7 1467.3,893.8 1471.0,893.8 1471.0,893.2 1474.2,893.2 1474.2,889.4 1477.4,889.4 1477.4,888.8 1481.5,888.8 1481.5,888.4 1485.0,888.4 1485.0,884.6 1488.0,884.6 1488.0,881.1 1490.4,881.1 1490.4,876.6 1493.5,876.6 1493.5,875.5 1497.4,875.5 1497.4,873.3 1500.6,873.3 1500.6,869.2 1503.9,869.2 1503.9,867.5 1508.2,867.5 1508.2,867.1 1512.1,867.1 1512.1,864.1 1515.5,864.1 1515.5,863.7 1519.2,863.7 1519.2,863.7 1522.7,863.7 1522.7,863.1 1526.3,863.1 1526.3,862.7 1529.9,862.7 1529.9,860.6 1533.1,860.6 1533.1,857.4 1536.4,857.4 1536.4,855.5 1539.6,855.5 1539.6,852.5 1542.9,852.5 1542.9,850.5 1546.3,850.5 1546.3,848.7 1549.0,848.7 1549.0,845.5 1552.4,845.5 1552.4,845.5 1555.7,845.5 1555.7,842.6 1559.1,842.6 1559.1,842.6 1562.2,842.6 1562.2,838.7 1564.1,838.7 1564.1,834.9 1565.8,834.9 1565.8,831.1 1567.8,831.1 1567.8,827.8 1570.7,827.8 1570.7,825.0 1573.7,825.0 1573.7,821.4 1576.5,821.4 1576.5,818.5 1579.0,818.5 1579.0,815.2 1581.6,815.2 1581.6,813.6 1585.1,813.6 1585.1,812.7 1588.8,812.7 1588.8,811.8 1591.9,811.8 1591.9,808.7 1594.8,808.7 1594.8,806.4 1598.1,806.4 1598.1,803.7 1601.7,803.7 1601.7,802.0 1605.0,802.0 1605.0,798.3 1608.1,798.3 1608.1,796.3 1611.9,796.3 1611.9,795.0 1615.9,795.0 1615.9,795.0 1619.8,795.0 1619.8,792.0 1623.8,792.0 1623.8,792.0 1628.0,792.0 1628.0,791.5 1630.3,791.5 1630.3,786.9 1631.5,786.9 1631.5,783.6 1634.8,783.6 1634.8,782.8 1637.9,782.8 1637.9,779.0 1640.1,779.0 1640.1,776.9 1643.0,776.9 1643.0,774.3 1646.2,774.3 1646.2,772.7 1649.0,772.7 1649.0,769.4 1651.7,769.4 1651.7,767.7 1655.0,767.7 1655.0,765.5 1657.8,765.5 1657.8,762.8 1660.9,762.8 1660.9,760.5 1664.7,760.5 1664.7,759.1 1668.6,759.1 1668.6,757.3 1672.7,757.3 1672.7,756.7 1676.8,756.7 1676.8,754.7 1680.3,754.7 1680.3,751.0 1683.7,751.0 1683.7,748.3 1687.1,748.3 1687.1,746.0 1690.7,746.0 1690.7,745.9 1694.4,745.9 1694.4,744.5 1698.2,744.5 1698.2,744.5 1702.0,744.5 1702.0,742.9 1705.9,742.9 1705.9,742.9 1710.2,742.9 1710.2,741.9 1714.2,741.9 1714.2,740.1 1718.4,740.1 1718.4,740.1 1722.5,740.1 1722.5,738.7 1726.5,738.7 1726.5,738.3 1730.6,738.3 1730.6,738.3 1734.7,738.3 1734.7,737.8 1738.8,737.8 1738.8,737.8 1742.9,737.8 1742.9,737.8 1745.8,737.8 1745.8,734.1 1748.4,734.1 1748.4,731.5 1751.5,731.5 1751.5,727.7 1754.5,727.7 1754.5,726.1 1758.3,726.1 1758.3,725.1 1762.3,725.1 1762.3,725.1 1765.8,725.1 1765.8,722.1 1769.5,722.1 1769.5,722.1 1773.6,722.1 1773.6,721.1 1777.1,721.1 1777.1,717.6 1780.4,717.6 1780.4,715.5 1784.3,715.5 1784.3,714.3 1788.4,714.3 1788.4,712.7 1791.3,712.7 1791.3,708.9 1794.1,708.9 1794.1,707.1 1796.3,707.1 1796.3,702.5 1798.2,702.5 1798.2,699.9 1801.3,699.9 1801.3,697.9 1804.5,697.9 1804.5,695.4 1807.7,695.4 1807.7,693.8 1810.6,693.8 1810.6,689.9 1813.8,689.9 1813.8,689.8 1817.6,689.8 1817.6,687.8 1821.4,687.8 1821.4,687.8 1825.1,687.8 1825.1,685.7 1827.9,685.7 1827.9,682.3 1829.1,682.3 1829.1,677.8 1831.1,677.8 1831.1,675.9 1833.1,675.9 1833.1,671.2 1834.0,671.2 1834.0,668.3 1835.7,668.3 1835.7,664.9 1838.4,664.9 1838.4,663.5 1841.6,663.5 1841.6,661.1 1844.2,661.1 1844.2,657.9 1847.0,657.9 1847.0,656.2 1849.8,656.2 1849.8,652.6 1853.0,652.6 1853.0,650.6 1856.6,650.6 1856.6,647.3 1859.6,647.3 1859.6,644.3 1862.1,644.3 1862.1,640.1 1864.3,640.1 1864.3,637.6 1866.0,637.6 1866.0,633.6 1867.9,633.6 1867.9,631.2 1870.2,631.2 1870.2,627.9 1872.8,627.9 1872.8,625.7 1875.2,625.7 1875.2,622.3 1876.5,622.3 1876.5,618.3 1877.6,618.3 1877.6,614.4 1878.5,614.4 1878.5,610.3 1880.7,610.3 1880.7,607.6 1883.3,607.6 1883.3,603.8 1884.7,603.8 1884.7,600.1 1887.7,600.1 1887.7,598.3 1890.1,598.3 1890.1,593.4 1891.0,593.4 1891.0,589.5 1893.7,589.5 1893.7,586.7 1896.7,586.7 1896.7,582.9 1899.1,582.9 1899.1,579.2 1900.8,579.2 1900.8,575.0 1901.9,575.0 1901.9,571.1 1902.7,571.1 1902.7,566.7 1903.0,566.7 1903.0,562.7 1903.4,562.7 1903.4,558.3 1905.3,558.3 1905.3,555.0 1907.6,555.0 1907.6,550.9 1908.4,550.9 1908.4,546.7 1909.1,546.7 1909.1,542.6 1909.7,542.6 1909.7,538.4 1910.6,538.4 1910.6,534.4 1912.1,534.4 1912.1,530.5 1913.1,530.5 1913.1,526.2 1914.6,526.2 1914.6,522.5 1915.9,522.5 1915.9,518.0 1916.1,518.0 1916.1,513.9 1916.8,513.9 1916.8,509.7 1918.5,509.7 1918.5,506.0 1919.9,506.0 1919.9,501.5 1920.7,501.5 1920.7,497.4 1922.3,497.4 1922.3,493.5 1923.7,493.5 1923.7,489.3 1924.7,489.3 1924.7,485.0 1926.3,485.0 1926.3,481.0 1928.5,481.0 1928.5,477.3 1930.3,477.3 1930.3,473.0 1931.8,473.0 1931.8,469.0 1932.7,469.0 1932.7,464.6 1934.5,464.6 1934.5,461.7 1936.8,461.7 1936.8,457.9 1938.5,457.9 1938.5,454.4 1940.3,454.4 1940.3,450.8 1942.2,450.8 1942.2,447.6 1943.3,447.6 1943.3,443.3 1944.0,443.3 1944.0,439.7 1946.3,439.7 1946.3,436.9 1947.8,436.9 1947.8,432.6 1949.3,432.6 1949.3,430.0 1951.2,430.0 1951.2,425.9 1952.6,425.9 1952.6,422.6 1954.7,422.6 1954.7,419.0 1956.6,419.0 1956.6,415.4 1958.0,415.4 1958.0,411.5 1958.9,411.5 1958.9,407.6 1960.5,407.6 1960.5,404.4 1962.6,404.4 1962.6,400.8 1963.8,400.8 1963.8,396.5 1964.9,396.5 1964.9,392.8 1967.1,392.8 1967.1,389.7 1969.0,389.7 1969.0,386.1 1970.8,386.1 1970.8,382.8 1972.7,382.8 1972.7,379.2 1974.2,379.2 1974.2,375.7 1975.2,375.7 1975.2,371.7 1975.6,371.7 1975.6,367.7 1977.2,367.7 1977.2,364.5 1979.3,364.5 1979.3,361.0 1980.6,361.0 1980.6,357.3 1981.8,357.3 1981.8,353.6 1982.8,353.6 1982.8,349.7 1984.5,349.7 1984.5,346.6 1985.8,346.6 1985.8,342.3 1986.9,342.3 1986.9,339.0 1988.4,339.0 1988.4,335.1 1990.2,335.1 1990.2,332.1 1992.0,332.1 1992.0,328.2 1993.5,328.2 1993.5,324.7 1994.6,324.7 1994.6,320.3 1995.0,320.3 1995.0,316.6 1995.3,316.6 1995.3,312.3 1996.9,312.3 1996.9,309.3 1999.0,309.3 1999.0,305.5 2000.2,305.5 2000.2,301.4 2002.0,301.4 2002.0,297.7 2003.2,297.7 2003.2,293.0 2003.4,293.0 2003.4,289.1 2003.8,289.1 2003.8,284.8 2005.1,284.8 2005.1,281.0 2007.1,281.0 2007.1,277.2 2008.5,277.2 2008.5,273.1 2009.3,273.1 2009.3,269.3 2010.6,269.3 2010.6,266.0 2011.7,266.0 2011.7,261.9 2012.0,261.9 2012.0,258.5 2013.7,258.5 2013.7,256.1 2017.1,256.1 2017.1,255.7 2020.3,255.7 2020.3,253.2 2022.1,253.2 2022.1,249.1 2023.4,249.1 2023.4,245.2 2024.3,245.2 2024.3,241.0 2024.5,241.0 2024.5,237.1 2025.0,237.1 2025.0,233.1 2025.4,233.1 2025.4,228.7 2026.5,228.7 2026.5,224.8 2027.9,224.8 2027.9,220.6 2028.3,220.6 2028.3,216.0 2029.2,216.0 2029.2,212.2 2030.2,212.2 2030.2,207.8 2031.4,207.8 2031.4,204.6 2033.1,204.6 2033.1,200.4 2034.8,200.4 2034.8,196.8 2037.1,196.8 2037.1,193.0 2038.6,193.0 2038.6,188.5 2041.1,188.5 2041.1,185.5 2043.2,185.5 2043.2,180.5 2044.1,180.5 2044.1,176.8 2045.1,176.8 2045.1,172.3 2046.6,172.3 2046.6,169.1 2048.1,169.1 2048.1,164.9 2048.8,164.9 2048.8,160.9 2050.0,160.9 2050.0,157.0 2051.4,157.0 2051.4,152.8 2053.2,152.8 2053.2,148.8 2055.5,148.8 2055.5,145.1 2057.2,145.1 2057.2,140.5 2058.7,140.5 2058.7,137.1 2060.5,137.1 2060.5,133.2 2061.9,133.2 2061.9,129.5 2063.2,129.5 2063.2,125.4 2065.1,125.4 2065.1,122.3 2067.9,122.3 2067.9,118.9 2069.6,118.9 2069.6,114.3 2072.1,114.3 2072.1,112.0 2075.3,112.0 2075.3,108.2 2077.0,108.2 2077.0,104.8 2078.8,104.8 2078.8,101.9 2081.1,101.9 2081.1,99.2 2083.6,99.2 2083.6,96.6 2085.6,96.6 2085.6,93.1 2088.0,93.1 2088.0,90.0 2089.8,90.0 2089.8,85.3 2090.4,85.3 2090.4,81.3 2091.7,81.3 2091.7,77.2 2094.3,77.2 2094.3,75.9 2098.4,75.9 2098.4,74.5 2102.4,74.5 2102.4,72.5 2106.3,72.5 2106.3,70.8 2110.1,70.8 2110.1,69.3 2113.4,69.3 2113.4,67.1 2117.3,67.1 2117.3,67.1 2121.2,67.1 2121.2,66.0 2124.8,66.0 2124.8,65.6 2128.4,65.6 2128.4,64.7 2132.1,64.7 2132.1,64.4 2135.8,64.4 2135.8,63.2 2139.0,63.2 2139.0,61.6 2142.1,61.6 2142.1,60.1 2145.4,60.1 2145.4,58.9 2148.6,58.9 2148.6,57.3 2152.3,57.3 2152.3,57.3 2156.1,57.3 2156.1,55.5 2159.7,55.5 2159.7,54.6 2163.6,54.6 2163.6,54.6 2167.6,54.6 2167.6,54.6 2169.6,54.6"/>
</g>
<g class="tk" text-anchor="middle">
<text transform="translate(258.2,1750.6) scale(1,1.012)">100</text>
<text transform="translate(575.1,1750.6) scale(1,1.012)">150</text>
<text transform="translate(892.5,1750.6) scale(1,1.012)">200</text>
<text transform="translate(1209.9,1750.6) scale(1,1.012)">250</text>
<text transform="translate(1527.3,1750.6) scale(1,1.012)">300</text>
<text transform="translate(1844.7,1750.6) scale(1,1.012)">350</text>
<text transform="translate(2162.1,1750.6) scale(1,1.012)">400</text>
</g><g class="tk" text-anchor="end">
<text transform="translate(229.4,1672.0) scale(0.985,1.03)">0</text>
<text transform="translate(229.4,1354.6) scale(0.985,1.03)">0.2</text>
<text transform="translate(229.4,1037.1) scale(0.985,1.03)">0.4</text>
<text transform="translate(229.4,719.7) scale(0.985,1.03)">0.6</text>
<text transform="translate(229.4,402.2) scale(0.985,1.03)">0.8</text>
<text transform="translate(235.2,84.8) scale(1.15,1.04)">1</text>
</g>
<g fill="#fff">
<rect x="187.5" y="75.5" width="17.9" height="10.5"/>
<rect x="218.1" y="75.5" width="16.4" height="10.5"/>
<rect x="194.5" y="1741.5" width="15.7" height="10.5"/>
<rect x="221.2" y="1741.5" width="14.3" height="10.5"/>
<rect x="511.5" y="1741.5" width="15.7" height="10.5"/>
<rect x="538.2" y="1741.5" width="14.3" height="10.5"/>
</g>
<text class="al" text-anchor="middle" transform="translate(1212.3,1866.0) scale(1.005,1.012)">Emissions (Kg/MWh)</text>
<text class="al" text-anchor="middle" transform="translate(84,845) rotate(-90) scale(1.005,0.99)">Cumulative Probability</text>
<text class="cl" fill="#767171" font-size="71.0" transform="translate(1548.5,637.6) rotate(-70.4) skewX(0.0) scale(0.9,1)" x="1.4 56.1 102.5 129.2 174.3 206.9 273.8 295.0 339.9 357.3 397.0 423.8 442.5" y="0">Deterministic</text>
<text class="cl" fill="#6666ff" font-size="71.0" transform="translate(1694.9,635.5) rotate(-70.0) skewX(0.0) scale(0.9,1)" x="-1.8 49.8 67.2 104.3 143.6 172.2 217.1 262.0 309.6 337.7 366.1 409.0" y="0">Risk-neutral</text>
<text class="cl" fill="#ff8a66" font-size="71.0" transform="translate(1936.3,693.0) rotate(-66.3) skewX(3.0) scale(0.9,1)" x="-1.8 49.8 67.2 104.3 143.6 170.2 213.0 252.7 297.8 324.4 361.4" y="0">Risk-averse</text>
</svg></body></html>
